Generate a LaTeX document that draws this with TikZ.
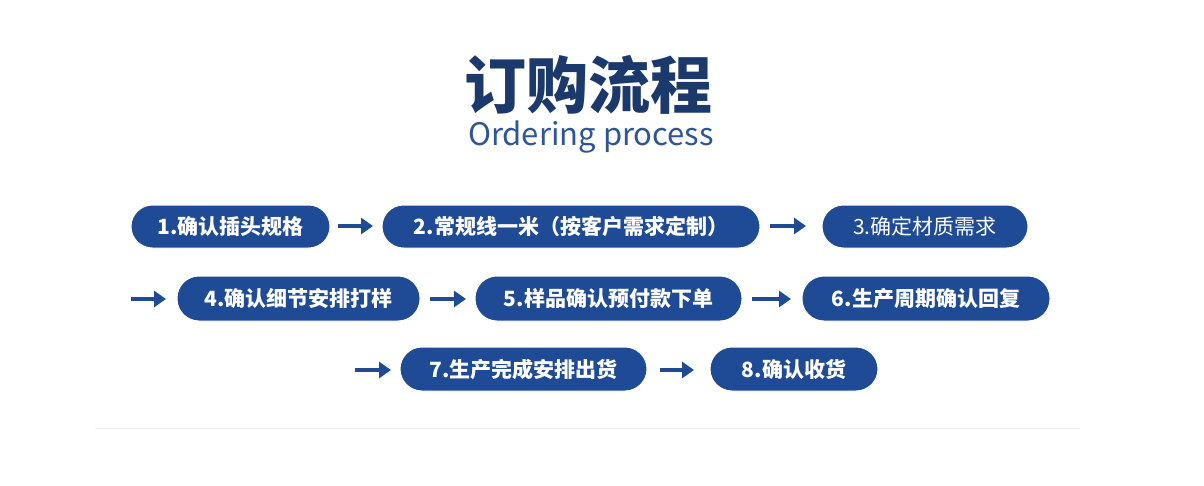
\documentclass[tikz,border=0pt]{standalone}
\usepackage{fontspec}
\usetikzlibrary{arrows.meta}
\newfontfamily\cjk{Noto Sans CJK SC}
\newcommand\cjkb{\cjk\bfseries}
\definecolor{bx}{HTML}{1F4A96}
\definecolor{tt}{HTML}{1B3A6B}
\definecolor{en}{HTML}{2E5597}
\begin{document}
\begin{tikzpicture}[x=1pt,y=-1pt,
 pill/.style={fill=bx,draw=white,line width=1pt,text=white,font=\cjkb\fontsize{21}{21}\selectfont,inner sep=0pt},
 lbl/.style={text=white,font=\cjkb\fontsize{21}{21}\selectfont,inner sep=0pt},
 arr/.style={-{Triangle[length=12pt,width=16pt]},line width=4pt,bx}]
\useasboundingbox (0,0) rectangle (1204,485);
\fill[white] (0,0) rectangle (1204,485);
\node[text=tt,font=\cjkb\fontsize{62}{62}\selectfont] (t) at (588,85) {订购流程};
\node[text=en,font=\cjk\fontsize{31}{31}\selectfont] (e) at (591,137) {Ordering process};
\draw[black!6,line width=1pt] (95,428) -- (1080,428);
\path[pill,rounded corners=21.5pt] (131,205) rectangle (330,248);
\node[lbl] (b1) at (230.5,226.5) {1.确认插头规格};
\path[pill,rounded corners=21.5pt] (382,205) rectangle (760,248);
\node[lbl] (b2) at (571,226.5) {2.常规线一米（按客户需求定制）};
\path[pill,rounded corners=21.5pt] (822,205) rectangle (1028,248);
\node[lbl,font=\cjk\fontsize{21}{21}\selectfont] (b3) at (925,226.5) {3.确定材质需求};
\path[pill,rounded corners=22pt] (177,276) rectangle (420,321);
\node[lbl] (b4) at (298.5,298.5) {4.确认细节安排打样};
\path[pill,rounded corners=22pt] (475,276) rectangle (742,321);
\node[lbl] (b5) at (608.5,298.5) {5.样品确认预付款下单};
\path[pill,rounded corners=22pt] (802,276) rectangle (1050,321);
\node[lbl] (b6) at (926,298.5) {6.生产周期确认回复};
\path[pill,rounded corners=22pt] (400,347) rectangle (647,391);
\node[lbl] (b7) at (523.5,369) {7.生产完成安排出货};
\path[pill,rounded corners=22pt] (710,347) rectangle (878,391);
\node[lbl] (b8) at (794,369) {8.确认收货};
\coordinate (a1s) at (338,226); \coordinate (a1e) at (373,226);
\coordinate (a2s) at (770,226); \coordinate (a2e) at (806,226);
\coordinate (a3s) at (131,299); \coordinate (a3e) at (166,299);
\coordinate (a4s) at (430,299); \coordinate (a4e) at (466,299);
\coordinate (a5s) at (752,299); \coordinate (a5e) at (791,299);
\coordinate (a6s) at (355,370); \coordinate (a6e) at (391,370);
\coordinate (a7s) at (660,370); \coordinate (a7e) at (694,370);
\foreach \i in {1,...,7}{\draw[arr] (a\i s) -- (a\i e);}
\end{tikzpicture}
\end{document}
